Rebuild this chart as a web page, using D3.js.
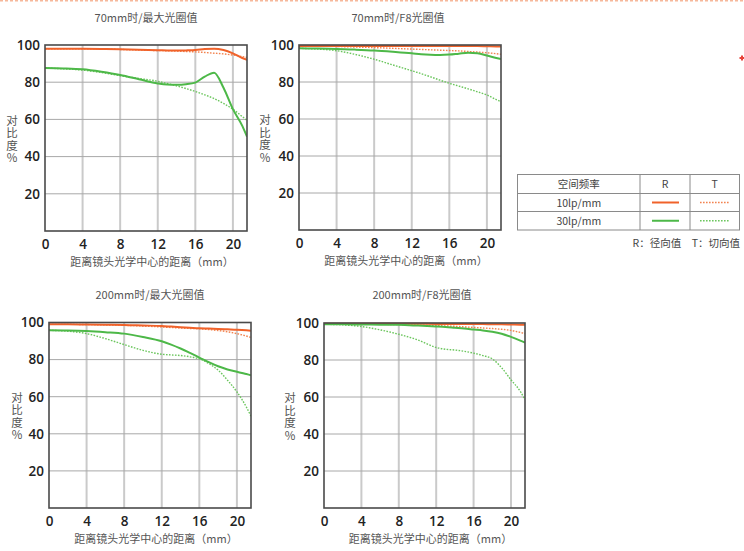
<!DOCTYPE html>
<html><head><meta charset="utf-8">
<script src="https://cdn.jsdelivr.net/npm/d3@7"></script>
<style>
html,body{margin:0;padding:0;background:#fff;}
svg{display:block;}
.vt{writing-mode:vertical-rl;text-orientation:upright;}
</style></head>
<body>
<svg id="c" width="744" height="551"></svg>
<script>
// ---------- DATA ----------
const xPositions = [0,2,4,6,8,10,12,13,14,15,16,17,18,19,20,21,21.5];
const xTicks = [0,4,8,12,16,20];
const yTicks = [20,40,60,80,100];
const panelTitles = ["70mm时/最大光圈值","70mm时/F8光圈值","200mm时/最大光圈值","200mm时/F8光圈值"];
const xAxisTitle = "距离镜头光学中心的距离（mm）";
const yAxisTitle = "对比度%";

// 70mm wide open
const p1R10 = [98,98,98,97.9,97.7,97.4,97.2,97.1,97,97.1,97.3,97.8,98,97.3,95.5,93,92];
const p1T10 = [98,98,98,97.9,97.6,97.3,97,96.9,96.7,96.5,96.3,96,95.6,95.2,94.6,93.8,93.3];
const p1R30 = [87.6,87.4,86.9,85.6,83.9,81.6,79.3,78.7,78.6,78.9,79.8,83,85.1,77,65.5,56.5,50.7];
const p1T30 = [87.6,87.2,86.5,85.2,83.5,82,80.5,79.3,78,76.6,75,73.2,71.2,68.6,65.5,61.5,59.5];
// 70mm F8
const p2R10 = [99.5,99.5,99.5,99.5,99.5,99.5,99.5,99.5,99.5,99.5,99.5,99.5,99.4,99.4,99.3,99.2,99.2];
const p2T10 = [99.5,99.4,99.2,98.9,98.6,98.2,97.8,97.6,97.4,97.2,97,96.8,96.5,96.2,95.8,95.3,95];
const p2R30 = [98.2,98.1,97.9,97.5,97,96.3,95.5,95,94.7,94.6,94.8,95.3,95.8,95.5,94.3,93,92.4];
const p2T30 = [98.2,97.8,96.9,94.9,92.3,89.2,86.1,84.5,82.8,81,79.3,77.8,76.3,74.7,73,70.5,69.4];
// 200mm wide open
const p3R10 = [99,99,98.9,98.8,98.7,98.4,98.1,97.8,97.5,97.2,96.9,96.7,96.5,96.3,96.1,95.8,95.6];
const p3T10 = [99,99,98.9,98.7,98.5,98.1,97.6,97.3,97,96.8,96.6,96.2,95.7,95,94,92.7,91.9];
const p3R30 = [95.8,95.7,95.4,94.8,94,92.2,89.9,88.1,86,83.6,81.1,78.6,76.4,74.7,73.4,72.2,71.6];
const p3T30 = [95.8,95.3,94,91.3,88.1,85,82.9,82.5,82.2,81.5,80.4,77.9,74.3,68.9,62.6,54.5,49.5];
// 200mm F8
const p4R10 = [99.6,99.6,99.6,99.6,99.6,99.6,99.5,99.5,99.5,99.4,99.4,99.4,99.3,99.3,99.2,99.1,99.1];
const p4T10 = [99.6,99.5,99.4,99.3,99.1,98.9,98.6,98.4,98.2,97.9,97.6,97.3,97,96.6,96,94.9,94.3];
const p4R30 = [99.3,99.3,99.2,99.1,99,98.6,98.1,97.8,97.4,97,96.5,96,95.3,94.2,92.5,90.5,89.4];
const p4T30 = [99.3,99,98.1,96.3,93.9,90.9,86.8,85.8,85.4,84.7,83.7,82.4,80.6,75.8,69.3,63,58.5];

const legendHeader = ["空间频率","R","T"];
const legendFreqs = ["10lp/mm","30lp/mm"];
const legendNote = "R：径向值　T：切向值";

// ---------- LAYOUT / STYLE ----------
const ORANGE = "#f0622a", ORANGE_T = "#f2834f";
const GREEN = "#4db848", GREEN_T = "#6cc65e";
const panels = [
  {l:45,  t:45,   r:247, b:231, tx:146, ty:22,  yl:12,  series:[p1R10,p1T10,p1R30,p1T30]},
  {l:299, t:45,   r:501, b:230, tx:398, ty:22,  yl:265, series:[p2R10,p2T10,p2R30,p2T30]},
  {l:49,  t:322.5,r:251, b:508, tx:150, ty:299, yl:17,  series:[p3R10,p3T10,p3R30,p3T30]},
  {l:324, t:323,  r:525, b:508, tx:422, ty:299, yl:290, series:[p4R10,p4T10,p4R30,p4T30]}
];
const seriesStyle = [
  {c:ORANGE, w:2, dash:null},
  {c:ORANGE_T, w:1.4, dash:"1.6,1.4"},
  {c:GREEN, w:2, dash:null},
  {c:GREEN_T, w:1.4, dash:"1.6,1.4"}
];

const svg = d3.select("#c");
const font = "'Noto Sans CJK SC','Noto Sans',sans-serif";
const numFont = "'Open Sans','Noto Sans',sans-serif";

// top dashed border
svg.append("line").attr("x1",0).attr("x2",744).attr("y1",0.8).attr("y2",0.8)
  .attr("stroke","#f6b79a").attr("stroke-width",1.6).attr("stroke-dasharray","3,2");
// small red mark at right edge
svg.append("path").attr("d","M739.5,58h5M742,55.5v5").attr("stroke","#e8423a").attr("stroke-width",2);

panels.forEach((p,i)=>{
  const x = d3.scaleLinear().domain([0,21.5]).range([p.l,p.r]);
  const y = d3.scaleLinear().domain([0,100]).range([p.b,p.t]);
  const g = svg.append("g");
  const cid = "clip"+i;
  g.append("clipPath").attr("id",cid).append("rect")
    .attr("x",p.l).attr("y",p.t-1).attr("width",p.r-p.l).attr("height",p.b-p.t+1);

  // title
  g.append("text").attr("x",p.tx).attr("y",p.ty).attr("text-anchor","middle")
    .attr("font-family",font).attr("font-size",11).attr("fill","#555").text(panelTitles[i]);

  // vertical grid
  g.append("g").selectAll("line").data(xTicks.filter(d=>d>0)).join("line")
    .attr("x1",d=>x(d)).attr("x2",d=>x(d)).attr("y1",p.t).attr("y2",p.b)
    .attr("stroke","#cacaca").attr("stroke-width",2);
  // horizontal grid
  g.append("g").selectAll("line").data(yTicks.filter(d=>d<100)).join("line")
    .attr("x1",p.l).attr("x2",p.r).attr("y1",d=>y(d)).attr("y2",d=>y(d))
    .attr("stroke","#a8a8a8").attr("stroke-width",1);

  // axes (tick labels)
  const xa = d3.axisBottom(x).tickValues(xTicks).tickSize(0).tickPadding(8);
  const xg = g.append("g").attr("transform",`translate(0,${p.b})`).call(xa);
  xg.select(".domain").remove();
  xg.selectAll("text").attr("font-family",numFont).attr("font-size",13.5)
    .attr("font-weight",600).attr("fill","#222");
  const ya = d3.axisLeft(y).tickValues(yTicks).tickSize(0).tickPadding(5);
  const yg = g.append("g").attr("transform",`translate(${p.l},0)`).call(ya);
  yg.select(".domain").remove();
  yg.selectAll("text").attr("font-family",numFont).attr("font-size",13.5)
    .attr("font-weight",600).attr("fill","#222");

  // axis titles
  g.append("text").attr("x",(p.l+p.r)/2+6).attr("y",p.b+35).attr("text-anchor","middle")
    .attr("font-family",font).attr("font-size",11).attr("fill","#555").text(xAxisTitle);
  g.append("text").attr("class","vt").attr("x",p.yl).attr("y",y(60)-5)
    .attr("font-family",font).attr("font-size",11.5).attr("letter-spacing",1)
    .attr("fill","#555").text(yAxisTitle);

  // curves
  const line = d3.line().x((d,k)=>x(xPositions[k])).y(d=>y(d)).curve(d3.curveMonotoneX);
  const lg = g.append("g").attr("clip-path",`url(#${cid})`);
  [1,3,0,2].forEach(si=>{
    const st = seriesStyle[si];
    lg.append("path").attr("d",line(p.series[si])).attr("fill","none")
      .attr("stroke",st.c).attr("stroke-width",st.w)
      .attr("stroke-dasharray",st.dash);
  });

  // frame
  g.append("rect").attr("x",p.l).attr("y",p.t).attr("width",p.r-p.l).attr("height",p.b-p.t)
    .attr("fill","none").attr("stroke","#4a4a4a").attr("stroke-width",1.6);
});

// ---------- LEGEND TABLE ----------
const L = {x0:517.5, x1:739.5, c1:640, c2:690, rows:[174.5,193.5,211.5,230]};
const lg = svg.append("g");
lg.append("rect").attr("x",L.x0).attr("y",L.rows[0]).attr("width",L.x1-L.x0)
  .attr("height",L.rows[3]-L.rows[0]).attr("fill","none").attr("stroke","#8a8a8a").attr("stroke-width",1);
lg.selectAll("line.h").data([L.rows[1],L.rows[2]]).join("line").attr("class","h")
  .attr("x1",L.x0).attr("x2",L.x1).attr("y1",d=>d).attr("y2",d=>d).attr("stroke","#8a8a8a");
lg.selectAll("line.v").data([L.c1,L.c2]).join("line").attr("class","v")
  .attr("x1",d=>d).attr("x2",d=>d).attr("y1",L.rows[0]).attr("y2",L.rows[3]).attr("stroke","#8a8a8a");
const colCenters = [(L.x0+L.c1)/2, (L.c1+L.c2)/2, (L.c2+L.x1)/2];
lg.selectAll("text.hd").data(legendHeader).join("text").attr("class","hd")
  .attr("x",(d,k)=>colCenters[k]).attr("y",(L.rows[0]+L.rows[1])/2+4)
  .attr("text-anchor","middle").attr("font-family",font).attr("font-size",10.5)
  .attr("fill","#444").text(d=>d);
legendFreqs.forEach((f,k)=>{
  const cy = (L.rows[k+1]+L.rows[k+2])/2;
  lg.append("text").attr("x",colCenters[0]).attr("y",cy+4).attr("text-anchor","middle")
    .attr("font-family",font).attr("font-size",10.5).attr("fill","#444").text(f);
  const sR = seriesStyle[k*2], sT = seriesStyle[k*2+1];
  lg.append("line").attr("x1",652).attr("x2",679).attr("y1",cy).attr("y2",cy)
    .attr("stroke",sR.c).attr("stroke-width",2);
  lg.append("line").attr("x1",700).attr("x2",729).attr("y1",cy).attr("y2",cy)
    .attr("stroke",sT.c).attr("stroke-width",1.4).attr("stroke-dasharray",sT.dash);
});
lg.append("text").attr("x",740).attr("y",246.5).attr("text-anchor","end")
  .attr("font-family",font).attr("font-size",10.5).attr("fill","#444").text(legendNote);
</script>
</body></html>
